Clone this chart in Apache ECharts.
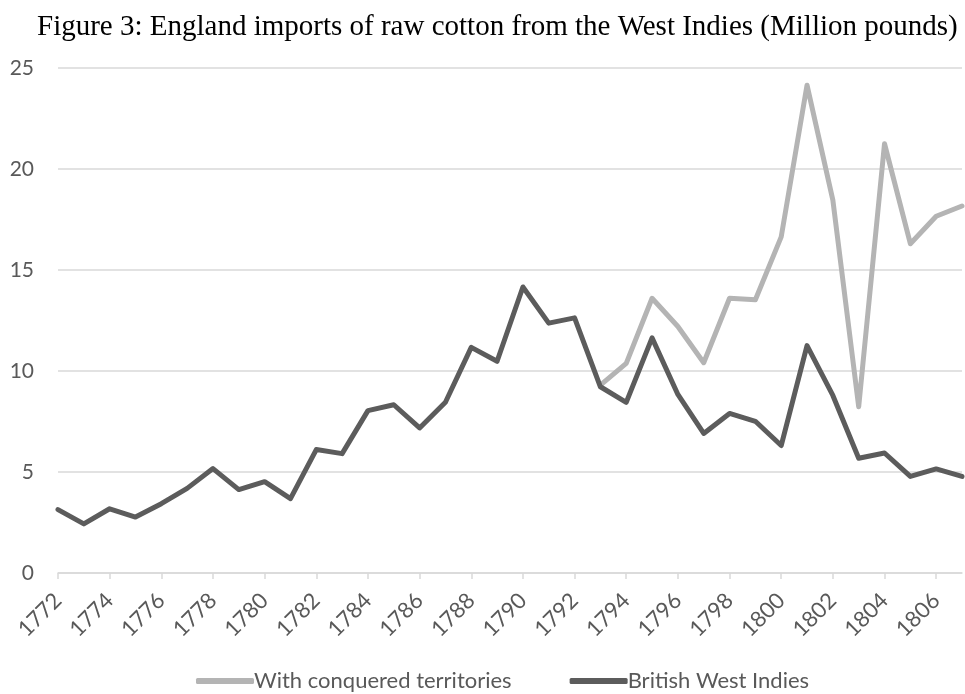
<!DOCTYPE html>
<html>
<head>
<meta charset="utf-8">
<script src="https://cdn.jsdelivr.net/npm/echarts@6/dist/echarts.min.js"></script>
<style>
    html, body { margin: 0; padding: 0; background: #fff; }
    #chart_container { width: 965px; height: 694px; }
</style>
</head>
<body>
<div id="chart_container"></div>
<script>
"use strict";

// 年份
var years = [];
for (var y = 1772; y <= 1807; y++) {
    years.push(String(y));
}

// British West Indies (million pounds)
var britishWI = [
    3.14, 2.43, 3.18, 2.77, 3.43, 4.19, 5.17, 4.13, 4.52, 3.68,
    6.11, 5.91, 8.04, 8.33, 7.18, 8.45, 11.17, 10.48, 14.16, 12.37,
    12.63, 9.22, 8.45, 11.64, 8.84, 6.91, 7.90, 7.51, 6.31, 11.26,
    8.79, 5.68, 5.94, 4.78, 5.15, 4.78
];

// With conquered territories, only shown from 1793
var withConquered = [
    null, null, null, null, null, null, null, null, null, null,
    null, null, null, null, null, null, null, null, null, null,
    null, 9.30, 10.38, 13.60, 12.20, 10.41, 13.60, 13.53, 16.64, 24.15,
    18.46, 8.23, 21.25, 16.30, 17.66, 18.17
];

var yTicks = [0, 5, 10, 15, 20, 25];

var labelColor = '#595959';
var gridColor = '#d9d9d9';

var myChart = echarts.init(document.getElementById('chart_container'));

var option = {
    backgroundColor: '#fff',
    animation: false,
    title: {
        text: 'Figure 3: England imports of raw cotton from the West Indies (Million pounds)',
        left: 32,
        top: 8,
        textStyle: {
            fontFamily: 'Liberation Serif',
            fontWeight: 'normal',
            fontSize: 29,
            color: '#000'
        }
    },
    legend: {
        bottom: -3,
        left: 191,
        icon: 'roundRect',
        itemWidth: 58,
        itemHeight: 6,
        itemGap: 58,
        textStyle: {
            fontFamily: 'Lato',
            fontSize: 22,
            color: labelColor,
            padding: [0, 0, 0, -5]
        },
        data: ['With conquered territories', 'British West Indies']
    },
    grid: {left: 58, right: 3, top: 68, bottom: 121, containLabel: false},
    xAxis: {
        type: 'category',
        data: years,
        boundaryGap: false,
        axisLine: {lineStyle: {color: gridColor, width: 1.5}},
        axisTick: {
            show: true,
            interval: 1,
            length: 6,
            lineStyle: {color: gridColor, width: 1.5}
        },
        axisLabel: {
            interval: 1,
            rotate: 45,
            margin: 24,
            fontFamily: 'Lato',
            fontSize: 22,
            color: labelColor
        }
    },
    yAxis: {
        type: 'value',
        min: yTicks[0],
        max: yTicks[yTicks.length - 1],
        interval: 5,
        axisLine: {show: false},
        axisTick: {show: false},
        splitLine: {lineStyle: {color: gridColor, width: 1.5}},
        axisLabel: {
            margin: 24,
            fontFamily: 'Lato',
            fontSize: 21,
            color: labelColor
        }
    },
    series: [
        {
            name: 'With conquered territories',
            type: 'line',
            data: withConquered,
            showSymbol: false,
            symbol: 'none',
            connectNulls: false,
            lineStyle: {color: '#b4b4b4', width: 5, join: 'round', cap: 'round'},
            itemStyle: {color: '#b4b4b4'}
        },
        {
            name: 'British West Indies',
            type: 'line',
            data: britishWI,
            showSymbol: false,
            symbol: 'none',
            lineStyle: {color: '#5c5c5c', width: 5, join: 'round', cap: 'round'},
            itemStyle: {color: '#5c5c5c'}
        }
    ]
};

myChart.setOption(option);
</script>
</body>
</html>
